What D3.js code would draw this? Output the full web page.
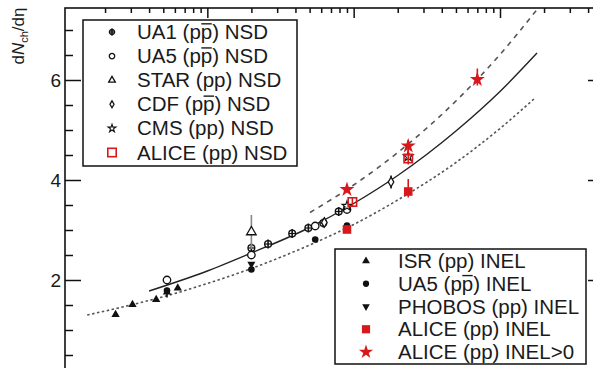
<!DOCTYPE html>
<html><head><meta charset="utf-8">
<script src="https://cdn.jsdelivr.net/npm/d3@7"></script>
<style>
body{margin:0;background:#fff}
svg{display:block}
text{font-family:"Liberation Sans",Arial,Helvetica,sans-serif;fill:#1a1a1a}
</style>
</head><body>
<svg id="c" width="593" height="368"></svg>
<script>
// ---------------- data (sqrt(s) in GeV, dNch/deta, err-, err+) ----------------
const ua1NSD    = [[200,2.64],[260,2.72],[380,2.93],[490,3.04],[620,3.14],[790,3.37],[900,3.43]];
const ua5NSD    = [[53,2.00],[200,2.50],[546,3.08],[900,3.41]];
const starNSD   = [[200,2.96,0.34,0.34]];
const cdfNSD    = [[630,3.15],[1800,3.96,0.13,0.13]];
const cmsNSD    = [[900,3.48],[2360,4.47]];
const aliceNSD  = [[980,3.56,0.08,0.10],[2360,4.43,0.12,0.17]];
const isrINEL   = [[23.6,1.31],[30.8,1.51],[44.7,1.61],[53,1.76],[62.8,1.84]];
const ua5INEL   = [[53,1.79,0.14,0.02],[200,2.21],[546,2.81],[900,3.09]];
const phobosINEL= [[200,2.32]];
const aliceINEL = [[900,3.01,0.05,0.08],[2360,3.77,0.12,0.25]];
const aliceINELgt0 = [[900,3.81,0.06,0.06],[2360,4.68,0.12,0.12],[7000,6.01,0.12,0.22]];
// fit curves
const fitNSD    = [[40,1.78],[100,2.18],[200,2.54],[500,3.05],[1000,3.53],[2000,4.09],[5000,4.98],[10000,5.77],[17900,6.54]];
const fitINEL   = [[15.1,1.30],[30,1.50],[60,1.73],[100,1.93],[200,2.23],[500,2.70],[1000,3.11],[2000,3.60],[5000,4.35],[10000,5.03],[17350,5.64]];
const fitINELgt0= [[503,3.35],[1000,3.90],[2000,4.55],[5000,5.58],[10000,6.51],[17900,7.41]];
// axis ticks
const yMajor = [2,4,6];
const yMinor = [0.5,1,1.5,2.5,3,3.5,4.5,5,5.5,6.5,7];
const xMajor = [10,100,1000,10000];
// legends
const legend1 = [["UA1 (p~p) NSD","ua1"],["UA5 (p~p) NSD","openCircle"],["STAR (pp) NSD","openTri"],
                 ["CDF (p~p) NSD","openDiamond"],["CMS (pp) NSD","openStar"],["ALICE (pp) NSD","openSquareRed"]];
const legend2 = [["ISR (pp) INEL","filledTri"],["UA5 (p~p) INEL","filledCircle"],["PHOBOS (pp) INEL","filledTriDown"],
                 ["ALICE (pp) INEL","filledSquareRed"],["ALICE (pp) INEL>0","filledStarRed"]];

// ---------------- layout ----------------
const svg = d3.select("#c");
const L=65, R=604, T=8, B=380;
const RED="#d7191c";
const x = d3.scaleLog().domain([10,10000]).range([61,500]);
const y = d3.scaleLinear().domain([0,7.44]).range([380,8]);

// curves
const line = d3.line().x(d=>x(d[0])).y(d=>y(d[1])).curve(d3.curveMonotoneX);
svg.append("path").datum(fitNSD).attr("d",line).attr("fill","none").attr("stroke","#222").attr("stroke-width",1.4);
svg.append("path").datum(fitINEL).attr("d",line).attr("fill","none").attr("stroke","#555").attr("stroke-width",1.6).attr("stroke-dasharray","2.5,2.5");
svg.append("path").datum(fitINELgt0).attr("d",line).attr("fill","none").attr("stroke","#555").attr("stroke-width",1.6).attr("stroke-dasharray","5,5");

// markers
function marker(g, type, cx, cy, s){
  s = s||1;
  const G = g.append("g").attr("transform",`translate(${cx},${cy})`);
  const sym = (t,size)=>d3.symbol().type(t).size(size*s*s)();
  switch(type){
    case "ua1":
      G.append("circle").attr("r",3.2*s).attr("fill","#fff").attr("stroke","#111").attr("stroke-width",1.4);
      G.append("line").attr("x1",0).attr("x2",0).attr("y1",-4.3*s).attr("y2",4.3*s).attr("stroke","#111").attr("stroke-width",1.6);
      G.append("line").attr("x1",-3.2*s).attr("x2",3.2*s).attr("y1",0).attr("y2",0).attr("stroke","#111").attr("stroke-width",1.2);
      break;
    case "openCircle":
      G.append("circle").attr("r",3.4*s).attr("fill","#fff").attr("stroke","#111").attr("stroke-width",1.3); break;
    case "openTri":
      G.append("path").attr("d",sym(d3.symbolTriangle,30)).attr("fill","#fff").attr("stroke","#111").attr("stroke-width",1.3); break;
    case "openDiamond":
      G.append("path").attr("d",sym(d3.symbolDiamond,22)).attr("fill","#fff").attr("stroke","#111").attr("stroke-width",1.3); break;
    case "openStar":
      G.append("path").attr("d",sym(d3.symbolStar,30)).attr("fill","#fff").attr("stroke","#111").attr("stroke-width",1.1); break;
    case "openSquareRed":
      G.append("rect").attr("x",-4.2*s).attr("y",-4.2*s).attr("width",8.4*s).attr("height",8.4*s).attr("fill","none").attr("stroke",RED).attr("stroke-width",1.6); break;
    case "filledTri":
      G.append("path").attr("d",sym(d3.symbolTriangle,30)).attr("fill","#111"); break;
    case "filledCircle":
      G.append("circle").attr("r",3.3*s).attr("fill","#111"); break;
    case "filledTriDown":
      G.append("path").attr("d",sym(d3.symbolTriangle,28)).attr("transform","rotate(180)").attr("fill","#111"); break;
    case "filledSquareRed":
      G.append("rect").attr("x",-4.3*s).attr("y",-4.3*s).attr("width",8.6*s).attr("height",8.6*s).attr("fill",RED); break;
    case "filledStarRed":
      G.append("path").attr("d",sym(d3.symbolStar,70)).attr("fill",RED); break;
  }
}
function errbars(g, data, color){
  data.filter(d=>d.length>2).forEach(d=>{
    g.append("line").attr("x1",x(d[0])).attr("x2",x(d[0]))
      .attr("y1",y(d[1]-d[2])).attr("y2",y(d[1]+d[3]))
      .attr("stroke",color).attr("stroke-width",1.6);
  });
}
const pts = svg.append("g");
const series = [
  [isrINEL,"filledTri","#111",1],
  [ua5INEL,"filledCircle","#111",1],
  [phobosINEL,"filledTriDown","#111",1],
  [ua1NSD,"ua1","#111",1.05],
  [ua5NSD,"openCircle","#111",1.1],
  [starNSD,"openTri","#888",1.15],
  [cdfNSD,"openDiamond","#111",1.1],
  [cmsNSD,"openStar","#111",1],
  [aliceINEL,"filledSquareRed",RED,1],
  [aliceNSD,"openSquareRed",RED,1],
  [aliceINELgt0,"filledStarRed",RED,1]
];
series.forEach(([data,type,ecol,s])=>{
  errbars(pts,data,ecol);
  data.forEach(d=>marker(pts,type,x(d[0]),y(d[1]),s));
});

// frame
svg.append("rect").attr("x",L).attr("y",T).attr("width",R-L).attr("height",B-T)
  .attr("fill","none").attr("stroke","#111").attr("stroke-width",1.6);

function styleAxis(g){
  g.select(".domain").remove();
  g.selectAll(".tick line").attr("stroke","#111").attr("stroke-width",1.5);
  g.selectAll("text").attr("font-size",19).attr("fill","#222").attr("font-family","Liberation Sans, Arial, sans-serif");
}
svg.append("g").attr("transform",`translate(${L},0)`)
  .call(d3.axisLeft(y).tickValues(yMajor).tickSizeInner(-16).tickSizeOuter(0).tickPadding(4).tickFormat(d3.format("d"))).call(styleAxis);
svg.append("g").attr("transform",`translate(${L},0)`)
  .call(d3.axisLeft(y).tickValues(yMinor).tickSizeInner(-8).tickSizeOuter(0).tickFormat("")).call(styleAxis);
svg.append("g").attr("transform",`translate(${R},0)`)
  .call(d3.axisRight(y).tickValues(yMajor).tickSizeInner(-16).tickSizeOuter(0).tickFormat("")).call(styleAxis);
svg.append("g").attr("transform",`translate(${R},0)`)
  .call(d3.axisRight(y).tickValues(yMinor).tickSizeInner(-8).tickSizeOuter(0).tickFormat("")).call(styleAxis);
const xAll = d3.scaleLog().domain([x.invert(L), x.invert(R)]).ticks();
const xMinor = xAll.filter(v=>!xMajor.some(m=>Math.abs(m-v)<1e-6));
const xVis = xMajor.filter(v=>x(v)>L);
svg.append("g").attr("transform",`translate(0,${T})`)
  .call(d3.axisTop(x).tickValues(xVis).tickSizeInner(-10).tickSizeOuter(0).tickFormat("")).call(styleAxis);
svg.append("g").attr("transform",`translate(0,${T})`)
  .call(d3.axisTop(x).tickValues(xMinor).tickSizeInner(-5).tickSizeOuter(0).tickFormat("")).call(styleAxis);

// y label
const yl = svg.append("text").attr("transform","translate(24,36) rotate(-90)").attr("text-anchor","middle")
  .attr("font-size",17);
yl.append("tspan").text("d");
yl.append("tspan").attr("font-style","italic").text("N");
yl.append("tspan").attr("font-size",11).attr("dy",4).text("ch");
yl.append("tspan").attr("dy",-4).text("/d\u03b7");

// legends
function addLabel(g, t, str, fs, baseY){
  const parts = str.split(/(~p)/);
  let idx = 0; const bars = [];
  parts.forEach(p=>{
    if(p==="~p"){ t.append("tspan").text("p"); bars.push(idx); idx += 1; }
    else if(p.length){ t.append("tspan").text(p); idx += p.length; }
  });
  const n = t.node();
  bars.forEach(i=>{
    const x0 = n.getStartPositionOfChar(i).x, x1 = n.getEndPositionOfChar(i).x;
    g.append("line").attr("x1",x0+0.5).attr("x2",x1-0.5)
      .attr("y1",baseY-0.74*fs).attr("y2",baseY-0.74*fs)
      .attr("stroke","#1a1a1a").attr("stroke-width",1.4);
  });
}
function legend(items, bx, by, bw, bh, row0, dy, mx, tx, fs, ms){
  const g = svg.append("g");
  g.append("rect").attr("x",bx).attr("y",by).attr("width",bw).attr("height",bh)
    .attr("fill","#fff").attr("stroke","#111").attr("stroke-width",1.5);
  items.forEach((it,i)=>{
    const cy = row0 + i*dy;
    marker(g, it[1], mx, cy, it[1]==="openSquareRed" ? 1 : ms);
    const t = g.append("text").attr("x",tx).attr("y",cy+7).attr("font-size",fs);
    addLabel(g, t, it[0], fs, cy+7);
  });
}
legend(legend1, 83, 20, 214, 146, 32, 24.1, 112, 137, 20.5, 0.8);
legend(legend2, 335, 249, 251, 115, 261, 22.75, 366, 398, 20.5, 0.95);
</script>
</body></html>
